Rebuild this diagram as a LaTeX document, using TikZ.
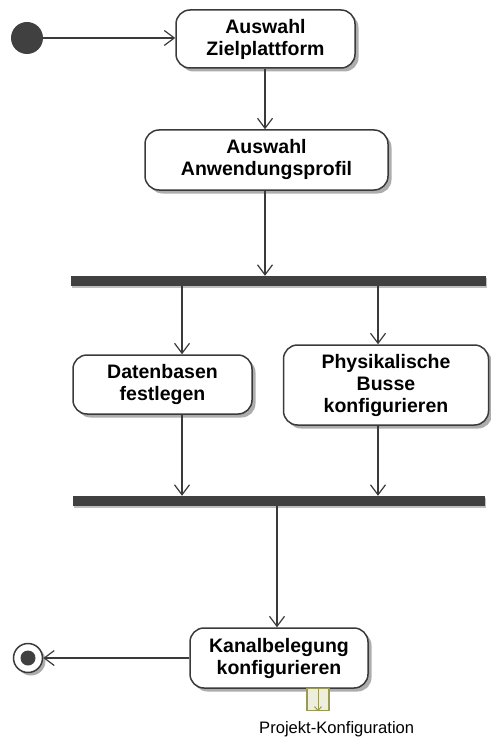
\documentclass[tikz,border=0pt]{standalone}
\usepackage{fontspec}
\setmainfont{Liberation Sans}
\usetikzlibrary{arrows.meta,shadows}
\definecolor{ink}{HTML}{3A3A3A}
\definecolor{barc}{HTML}{404040}
\definecolor{pinline}{HTML}{9A9A55}
\definecolor{pinfill}{HTML}{EEEEDC}
\begin{document}
\begin{tikzpicture}[x=1pt,y=-1pt,
  action/.style={draw=ink, line width=1.5pt, fill=white, rounded corners=14pt,
    align=center, inner sep=0pt,
    font=\bfseries\fontsize{19.5}{22}\selectfont,
    drop shadow={shadow xshift=3.5pt, shadow yshift=-3.5pt, fill=black!32, opacity=1}},
  bar/.style={fill=barc, draw=none, inner sep=0pt,
    drop shadow={shadow xshift=1pt, shadow yshift=-1.5pt, fill=black!25, opacity=1}},
  flow/.style={draw=ink, line width=1.2pt, -{Straight Barb[length=10pt,width=15pt]}},
  pinbox/.style={draw=pinline, line width=1.3pt, fill=pinfill, inner sep=0pt, minimum size=22pt}]

\useasboundingbox (0,0) rectangle (490,738);

% columns used by the vertical flows
\coordinate (c0) at (265,0);
\coordinate (c1) at (182,0);
\coordinate (c2) at (378,0);
\coordinate (c3) at (277,0);

% start and end
\node[circle, fill=barc, inner sep=0pt, minimum size=32pt] (init) at (27,38) {};
\node[circle, draw=ink, line width=1.5pt, fill=white, inner sep=0pt, minimum size=29pt,
  drop shadow={shadow xshift=3pt, shadow yshift=-3pt, fill=black!32, opacity=1}] (final) at (28,658) {};
\fill[barc] (final.center) circle (7.5pt);

% actions
\node[action, minimum width=179pt, minimum height=58pt] (a1) at (265.5,39) {Auswahl\\Zielplattform};
\node[action, minimum width=243pt, minimum height=60pt] (a2) at (266.5,160) {Auswahl\\Anwendungsprofil};
\node[action, minimum width=179pt, minimum height=59pt] (d) at (162.5,384.5) {Datenbasen\\festlegen};
\node[action, minimum width=205pt, minimum height=80pt] (p) at (386,385) {Physikalische\\Busse\\konfigurieren};
\node[action, minimum width=178pt, minimum height=60pt] (k) at (279,658) {Kanalbelegung\\konfigurieren};

% fork and join bars
\node[bar, minimum width=415pt, minimum height=10pt] (fork) at (278.5,281) {};
\node[bar, minimum width=412pt, minimum height=10pt] (join) at (279,501) {};

% output pin with its parameter name
\node[pinbox, anchor=north] (pin) at (318,688) {};
\draw[pinline, line width=1pt, -{Straight Barb[length=4pt,width=7pt]}] (pin.north) -- (pin.south);
\node[anchor=base west, inner sep=0pt, font=\fontsize{16.6}{18}\selectfont] (lbl) at (259,733) {Projekt-Konfiguration};

% control flows
\draw[flow] (init.east) -- (init.east -| a1.west);
\draw[flow] (c0 |- a1.south) -- (c0 |- a2.north);
\draw[flow] (c0 |- a2.south) -- (c0 |- fork.north);
\draw[flow] (c1 |- fork.south) -- (c1 |- d.north);
\draw[flow] (c2 |- fork.south) -- (c2 |- p.north);
\draw[flow] (c1 |- d.south) -- (c1 |- join.north);
\draw[flow] (c2 |- p.south) -- (c2 |- join.north);
\draw[flow] (c3 |- join.south) -- (c3 |- k.north);
\draw[flow] (k.west) -- (k.west -| final.east);
\end{tikzpicture}
\end{document}
